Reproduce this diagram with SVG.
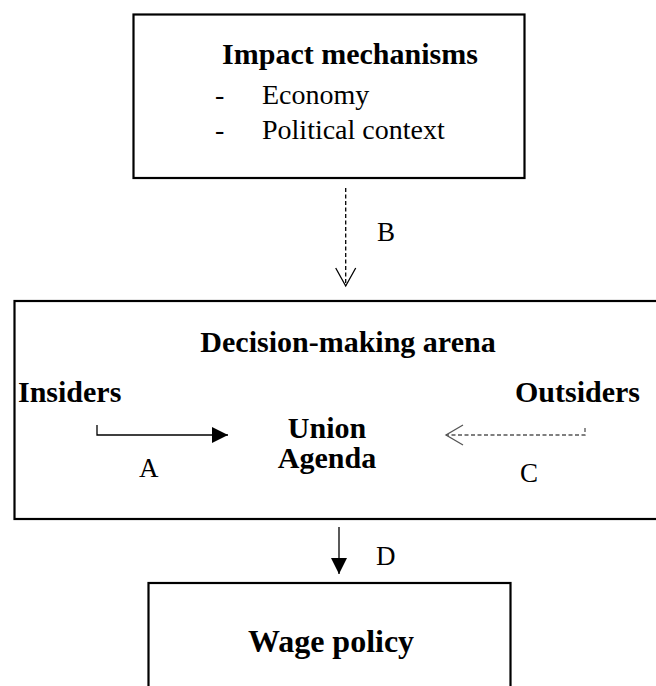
<svg xmlns="http://www.w3.org/2000/svg" width="656" height="686" viewBox="0 0 656 686">
<style>
.box{fill:#fff;stroke:#000;stroke-width:2.2}
.t{font-family:"Liberation Serif","Times New Roman",serif;fill:#000}
.b{font-weight:bold;font-size:30px}
.r{font-size:28px}
.l{font-size:27px}
.ln{fill:none;stroke:#000;stroke-width:1.3}
.dash{stroke-dasharray:4 2.5}
.gray{stroke:#555}
</style>
<defs>
<marker id="fill" viewBox="0 0 10 10" refX="10" refY="5" markerWidth="16" markerHeight="16" markerUnits="userSpaceOnUse" orient="auto">
<path d="M0,0 L10,5 L0,10 Z" fill="#000"/>
</marker>
</defs>
<rect width="656" height="686" fill="#fff"/>
<g id="impact">
<rect class="box" x="133.5" y="14.5" width="391" height="163.5"/>
<text class="t b" x="350" y="64" text-anchor="middle">Impact mechanisms</text>
<text class="t r" x="215" y="104">-</text>
<text class="t r" x="262" y="104">Economy</text>
<text class="t r" x="215" y="139">-</text>
<text class="t r" x="262" y="139">Political context</text>
</g>
<g id="arena">
<rect class="box" x="14.5" y="301" width="660" height="218"/>
<text class="t b" x="348" y="352" text-anchor="middle">Decision-making arena</text>
<text class="t b" x="18" y="402">Insiders</text>
<text class="t b" x="640" y="402" text-anchor="end">Outsiders</text>
<text class="t b" x="327" y="438" text-anchor="middle">Union</text>
<text class="t b" x="327" y="468" text-anchor="middle">Agenda</text>
</g>
<g id="wage">
<rect class="box" x="148.5" y="583" width="362" height="120"/>
<text class="t b" x="331" y="652" text-anchor="middle" style="font-size:32px">Wage policy</text>
</g>
<g id="connectors">
<path class="ln dash" d="M345.7,188 V286"/>
<path class="ln" d="M335.7,268 L345.7,286 L355.7,268"/>
<text class="t l" x="377" y="241">B</text>
<path class="ln" d="M97,425 V435 H228" marker-end="url(#fill)"/>
<text class="t l" x="139" y="477">A</text>
<path class="ln dash gray" d="M585,428 V435 H446"/>
<path class="ln gray" d="M463,425 L446,435 L463,445"/>
<text class="t l" x="520" y="482">C</text>
<path class="ln" d="M339,527 V574" marker-end="url(#fill)"/>
<text class="t l" x="376" y="565">D</text>
</g>
</svg>
